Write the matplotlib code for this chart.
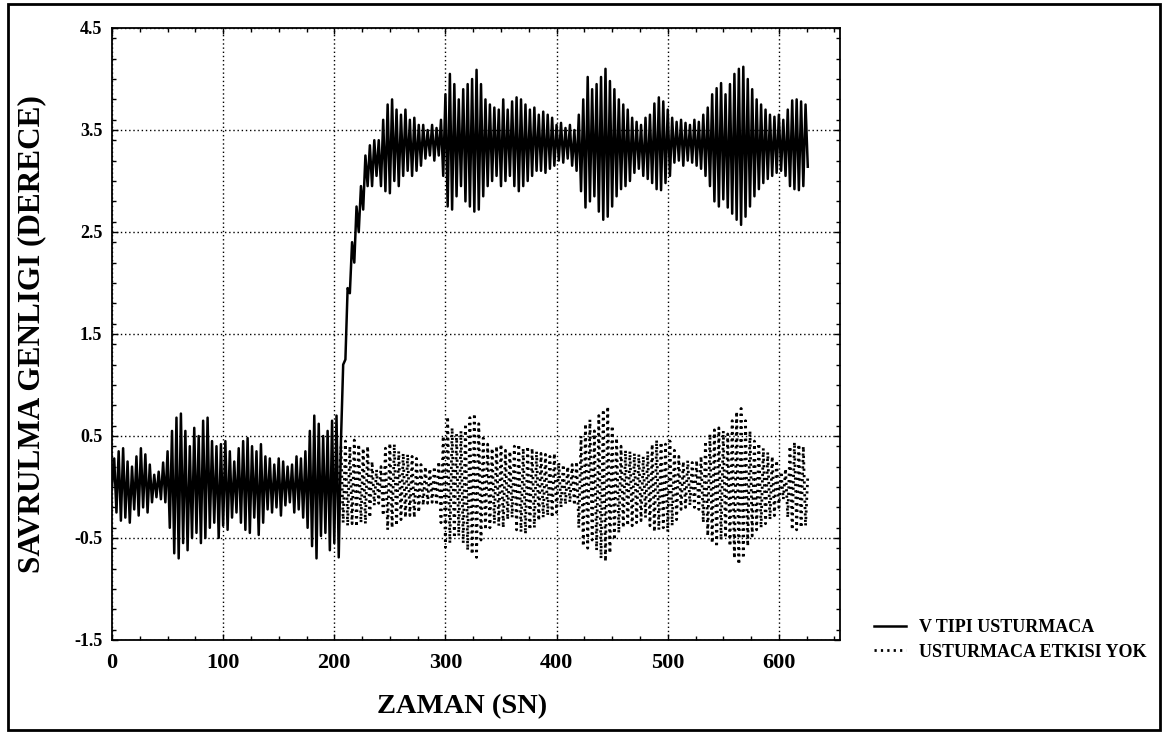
import numpy as np
import matplotlib.pyplot as plt
from matplotlib.patches import Rectangle
from matplotlib.ticker import MultipleLocator

plt.rcParams['font.family'] = ['Liberation Serif', 'DejaVu Serif']
plt.rcParams['font.weight'] = 'bold'

ORNEK_ADIMI = 2.0  # sn, okunan tepe/cukur noktalari arasi

# V tipi usturmaca, t = 0, 2, 4, ... sn
v_tipi = [
    0.00, 0.28, -0.25, 0.35, -0.33, 0.38, -0.30, 0.25, -0.35, 0.20,
    -0.22, 0.30, -0.28, 0.38, -0.20, 0.32, -0.25, 0.22, -0.15, 0.12,
    -0.10, 0.15, -0.12, 0.24, -0.15, 0.35, -0.40, 0.55, -0.65, 0.68,
    -0.70, 0.72, -0.55, 0.55, -0.62, 0.40, -0.50, 0.58, -0.45, 0.50,
    -0.55, 0.65, -0.50, 0.68, -0.40, 0.45, -0.35, 0.40, -0.50, 0.42,
    -0.38, 0.45, -0.42, 0.35, -0.30, 0.25, -0.25, 0.38, -0.35, 0.45,
    -0.42, 0.48, -0.45, 0.40, -0.30, 0.35, -0.47, 0.42, -0.35, 0.30,
    -0.22, 0.28, -0.25, 0.22, -0.20, 0.28, -0.28, 0.25, -0.18, 0.20,
    -0.15, 0.22, -0.25, 0.30, -0.22, 0.28, -0.30, 0.35, -0.40, 0.55,
    -0.58, 0.70, -0.70, 0.62, -0.48, 0.50, -0.45, 0.55, -0.62, 0.65,
    -0.55, 0.70, -0.69, 0.45, 1.20, 1.25, 1.95, 1.90, 2.40, 2.20,
    2.75, 2.50, 2.95, 2.72, 3.25, 2.95, 3.35, 2.95, 3.40, 3.05,
    3.40, 2.95, 3.60, 2.90, 3.75, 2.88, 3.80, 3.00, 3.70, 2.95,
    3.65, 3.05, 3.70, 3.10, 3.60, 3.05, 3.62, 3.10, 3.55, 3.15,
    3.55, 3.22, 3.50, 3.25, 3.55, 3.20, 3.52, 3.25, 3.60, 3.05,
    3.85, 2.75, 4.05, 2.72, 3.95, 2.85, 3.80, 2.95, 3.90, 2.80,
    3.95, 2.75, 4.00, 2.70, 4.09, 2.72, 3.95, 2.85, 3.80, 2.95,
    3.75, 3.00, 3.72, 3.05, 3.70, 2.95, 3.80, 3.00, 3.70, 3.05,
    3.78, 2.95, 3.82, 2.90, 3.80, 2.95, 3.75, 3.00, 3.70, 3.05,
    3.72, 3.10, 3.65, 3.10, 3.68, 3.08, 3.65, 3.12, 3.62, 3.15,
    3.55, 3.20, 3.57, 3.18, 3.52, 3.22, 3.55, 3.15, 3.50, 3.10,
    3.65, 2.90, 3.80, 2.74, 4.02, 2.80, 3.90, 2.85, 3.95, 2.70,
    4.02, 2.62, 4.10, 2.65, 3.98, 2.75, 3.90, 2.85, 3.80, 2.92,
    3.75, 2.95, 3.70, 3.00, 3.62, 3.08, 3.58, 3.12, 3.55, 3.05,
    3.62, 3.02, 3.65, 2.98, 3.76, 2.92, 3.82, 2.91, 3.78, 2.98,
    3.70, 3.05, 3.62, 3.18, 3.58, 3.20, 3.60, 3.15, 3.57, 3.20,
    3.55, 3.18, 3.60, 3.15, 3.58, 3.12, 3.65, 3.05, 3.72, 2.95,
    3.85, 2.80, 3.91, 2.75, 3.96, 2.82, 3.85, 2.74, 3.95, 2.68,
    4.05, 2.62, 4.10, 2.57, 4.12, 2.65, 4.00, 2.75, 3.90, 2.85,
    3.80, 2.92, 3.75, 2.98, 3.70, 3.02, 3.65, 3.05, 3.63, 3.08,
    3.65, 3.10, 3.60, 3.05, 3.70, 2.95, 3.79, 2.92, 3.80, 2.91,
    3.78, 2.95, 3.75, 3.14,
]

# Usturmaca etkisi yok, t = 204, 206, ... sn
etkisiz_baslangic = 204.0
etkisiz = [
    0.00, 0.40, -0.35, 0.45, -0.38, 0.40, -0.36, 0.46, -0.39, 0.42,
    -0.35, 0.38, -0.36, 0.40, -0.30, 0.25, -0.18, 0.17, -0.16, 0.20,
    -0.28, 0.38, -0.42, 0.43, -0.40, 0.42, -0.38, 0.35, -0.32, 0.33,
    -0.30, 0.32, -0.28, 0.30, -0.30, 0.28, -0.25, 0.22, -0.18, 0.20,
    -0.16, 0.18, -0.15, 0.20, -0.18, 0.25, -0.35, 0.50, -0.59, 0.69,
    -0.55, 0.58, -0.50, 0.52, -0.48, 0.55, -0.55, 0.62, -0.62, 0.68,
    -0.66, 0.72, -0.69, 0.62, -0.52, 0.48, -0.42, 0.42, -0.40, 0.38,
    -0.36, 0.40, -0.38, 0.42, -0.40, 0.36, -0.32, 0.35, -0.30, 0.40,
    -0.42, 0.42, -0.44, 0.38, -0.46, 0.40, -0.42, 0.38, -0.40, 0.35,
    -0.33, 0.33, -0.30, 0.32, -0.28, 0.30, -0.30, 0.33, -0.25, 0.24,
    -0.20, 0.22, -0.17, 0.20, -0.15, 0.22, -0.18, 0.25, -0.40, 0.50,
    -0.58, 0.62, -0.60, 0.66, -0.52, 0.55, -0.62, 0.70, -0.70, 0.76,
    -0.73, 0.79, -0.65, 0.60, -0.52, 0.48, -0.45, 0.40, -0.40, 0.36,
    -0.38, 0.35, -0.38, 0.33, -0.35, 0.32, -0.33, 0.30, -0.30, 0.35,
    -0.38, 0.42, -0.44, 0.46, -0.42, 0.44, -0.40, 0.42, -0.44, 0.45,
    -0.38, 0.36, -0.32, 0.30, -0.22, 0.25, -0.20, 0.26, -0.18, 0.24,
    -0.20, 0.26, -0.22, 0.30, -0.35, 0.45, -0.48, 0.52, -0.55, 0.56,
    -0.59, 0.58, -0.52, 0.55, -0.50, 0.52, -0.58, 0.65, -0.70, 0.74,
    -0.76, 0.77, -0.70, 0.65, -0.58, 0.55, -0.48, 0.45, -0.42, 0.43,
    -0.40, 0.38, -0.36, 0.34, -0.32, 0.30, -0.28, 0.26, -0.20, 0.15,
    -0.12, 0.18, -0.30, 0.40, -0.42, 0.44, -0.42, 0.42, -0.40, 0.40,
    -0.38, 0.10,
]

x_ticks = [0, 100, 200, 300, 400, 500, 600]
y_ticks = [-1.5, -0.5, 0.5, 1.5, 2.5, 3.5, 4.5]

t_v = np.arange(len(v_tipi)) * ORNEK_ADIMI
t_e = etkisiz_baslangic + np.arange(len(etkisiz)) * ORNEK_ADIMI

W, H = 1166, 733
fig = plt.figure(figsize=(W / 100, H / 100), dpi=100)
ax = fig.add_axes([112 / W, 1 - 640 / H, (840 - 112) / W, (640 - 28) / H])

ax.plot(t_v, v_tipi, color="black", linewidth=1.8, label="V TIPI USTURMACA")
ax.plot(t_e, etkisiz, color="black", linewidth=2.0,
        linestyle=(0, (0.8, 1.5)), label="USTURMACA ETKISI YOK")

ax.set_xlim(0, 655)
ax.set_ylim(-1.5, 4.5)
ax.set_xticks(x_ticks)
ax.set_yticks(y_ticks)
ax.set_yticklabels([f"{v:.1f}" for v in y_ticks])
ax.xaxis.set_minor_locator(MultipleLocator(25))
ax.yaxis.set_minor_locator(MultipleLocator(0.2))
ax.tick_params(which="both", direction="in", top=True, right=True, width=1.0)
ax.tick_params(which="major", length=4)
ax.tick_params(which="minor", length=3)
ax.tick_params(axis="x", labelsize=16, pad=9)
ax.tick_params(axis="y", labelsize=13, pad=7)
ax.grid(True, which="major", linestyle=(0, (1, 2)), color="black",
        linewidth=1.0)
for s in ax.spines.values():
    s.set_linewidth(1.3)

ax.set_xlabel("ZAMAN (SN)", fontsize=20.5, fontweight="bold")
ax.xaxis.set_label_coords((462 - 112) / 728, -(694 - 640) / 612)
ax.set_ylabel("SAVRULMA GENLIGI (DERECE)", fontsize=22.5, fontweight="bold")
ax.yaxis.set_label_coords(-(112 - 46) / 728, 0.5)

fig.legend(loc="center left", bbox_to_anchor=(858 / W, 1 - 640 / H),
           frameon=False, handlelength=1.75, handletextpad=0.72,
           labelspacing=0.4, prop={"weight": "bold", "size": 13})

fig.patches.append(Rectangle((8 / W, 3 / H), 1152 / W, 726 / H,
                             transform=fig.transFigure, fill=False,
                             edgecolor="black", linewidth=2.0))

fig.savefig("out.png", dpi=100)
